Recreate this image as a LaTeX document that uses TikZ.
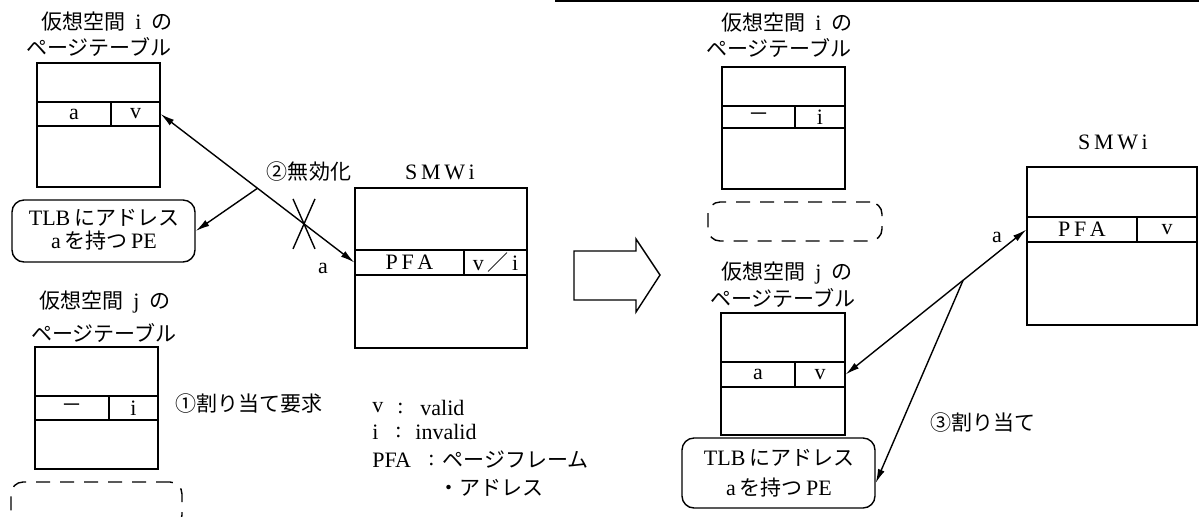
\documentclass[tikz,border=0pt]{standalone}
\usepackage{fontspec}
\setmainfont{Liberation Serif}
\newfontfamily\jp[Scale=0.955]{Noto Sans CJK JP}
\newcommand{\gap}{\hspace{5pt}}
\usetikzlibrary{fit,arrows.meta,calc}
\begin{document}
\begin{tikzpicture}[x=0.5pt,y=-0.5pt,
  every node/.style={font=\fontsize{11}{13}\selectfont, inner sep=0pt},
  outer/.style={draw, line width=1.2pt, inner sep=0pt},
  cell/.style={draw, line width=0.6pt, inner sep=0pt},
  pebox/.style={draw, line width=0.7pt, rounded corners=6pt, inner sep=0pt},
  dashbox/.style={draw, line width=0.7pt, rounded corners=6pt, dash pattern=on 7pt off 5pt, inner sep=0pt},
  conn/.style={line width=0.7pt},
  tipone/.style={-{Latex[length=7pt,width=3.5pt]}},
  tipboth/.style={{Latex[length=7pt,width=3.5pt]}-{Latex[length=7pt,width=3.5pt]}},
]
\useasboundingbox (0,0) rectangle (1199,516);
\fill[white] (0,0) rectangle (1199,516);
% top rule
\draw[line width=1.2pt] (555,1) -- (1199,1);

% ===== LEFT: page table i =====
\node (tLi1) at (107,22) {{\jp 仮想空間}\gap i\gap{\jp の}};
\node (tLi2) at (99,47) {{\jp ページテーブル}};
\node[outer, fit={(37,63)(160,187)}] (Ti) {};
\node[cell, fit={(37,102)(111,126)}] (Tia) {};
\node[cell, fit={(111,102)(160,126)}] (Tiv) {};
\node (Tiat) at (Tia.center) {a};
\node (Tivt) at (Tiv.center) {v};

\node[pebox, fit={(12,200)(195,262)}] (TLBL) {};
\node (TLBL1) at (104,218) {TLB\,{\jp にアドレス}};
\node (TLBL2) at (104,241) {a\,{\jp を持つ}\,PE};

% ===== LEFT: page table j =====
\node (tLj1) at (105,302) {{\jp 仮想空間}\gap j\gap{\jp の}};
\node (tLj2) at (104,333) {{\jp ページテーブル}};
\node[outer, fit={(35,347)(158,469)}] (Tj) {};
\node[cell, fit={(35,396)(109,420)}] (Tja) {};
\node[cell, fit={(109,396)(158,420)}] (Tjv) {};
\node (Tjat) at (Tja.center) {{\jp －}};
\node (Tjvt) at (Tjv.center) {i};
\node (req) at (249,404) {{\jp ①割り当て要求}};
\begin{scope}
\clip (0,0) rectangle (1199,516);
\node[dashbox, fit={(11,482)(182,527)}] (dL) {};
\end{scope}

% ===== LEFT: SMWi =====
\node (smwL) at (440,172) {S\,M\,W\,i};
\node[outer, fit={(355,188)(527,348)}] (SL) {};
\node[cell, fit={(355,250)(464,275)}] (SLp) {};
\node[cell, fit={(464,250)(527,275)}] (SLv) {};
\node (SLpt) at (SLp.center) {P\,F\,A};
\node (SLvt) at (SLv.center) {v\,{\jp ／}\,i};
\node (aL) at (323,268) {a};
\node (inv) at (309,172) {{\jp ②無効化}};

\draw[conn, tipboth] (Tiv.east) -- (SLp.west);
\coordinate (jL) at ($(Tiv.east)!0.5!(SLp.west)$);
\draw[conn, tipone] (jL) -- (TLBL.east);
\coordinate (xL) at ($(Tiv.east)!0.74!(SLp.west)$);
\draw[conn] ($(xL)+(-11,25)$) -- ($(xL)+(11,-25)$);
\draw[conn] ($(xL)+(-11,-25)$) -- ($(xL)+(11,25)$);

% legend
\node[anchor=west] (lv) at (372,408) {v};
\node[anchor=west] (lvc) at (397,408) {:};
\node[anchor=west] (lvt) at (420,408) {valid};
\node[anchor=west] (li) at (372,432) {i};
\node[anchor=west] (lic) at (395,432) {:};
\node[anchor=west] (lit) at (415,432) {invalid};
\node[anchor=west] (lp) at (372,460) {PFA};
\node[anchor=west] (lpc) at (428,460) {:};
\node[anchor=west] (lpt) at (442,460) {{\jp ページフレーム}};
\node[anchor=west] (lpt2) at (438,488) {{\jp ・アドレス}};

% block arrow
\draw[line width=0.7pt] (574,251) -- (636,251) -- (636,239) -- (660,275) -- (636,312) -- (636,300) -- (574,300) -- cycle;

% ===== RIGHT: page table i =====
\node (tRi1) at (787,23) {{\jp 仮想空間}\gap i\gap{\jp の}};
\node (tRi2) at (779,48) {{\jp ページテーブル}};
\node[outer, fit={(722,67)(845,189)}] (Ri) {};
\node[cell, fit={(722,106)(795,128)}] (Ria) {};
\node[cell, fit={(795,106)(845,128)}] (Riv) {};
\node (Riat) at (Ria.center) {{\jp －}};
\node (Rivt) at (Riv.center) {i};
\node[dashbox, fit={(708,202)(882,241)}] (dR) {};

% ===== RIGHT: page table j =====
\node (tRj1) at (787,273) {{\jp 仮想空間}\gap j\gap{\jp の}};
\node (tRj2) at (783,298) {{\jp ページテーブル}};
\node[outer, fit={(721,313)(845,435)}] (Rj) {};
\node[cell, fit={(721,362)(795,387)}] (Rja) {};
\node[cell, fit={(795,362)(845,387)}] (Rjv) {};
\node (Rjat) at (Rja.center) {a};
\node (Rjvt) at (Rjv.center) {v};
\node[pebox, fit={(682,438)(875,508)}] (TLBR) {};
\node (TLBR1) at (779,458) {TLB\,{\jp にアドレス}};
\node (TLBR2) at (779,488) {a\,{\jp を持つ}\,PE};

% ===== RIGHT: SMWi =====
\node (smwR) at (1113,142) {S\,M\,W\,i};
\node[outer, fit={(1027,167)(1197,325)}] (SR) {};
\node[cell, fit={(1027,217)(1137,242)}] (SRp) {};
\node[cell, fit={(1137,217)(1197,242)}] (SRv) {};
\node (SRpt) at (SRp.center) {P\,F\,A};
\node (SRvt) at (SRv.center) {v};
\node (aR) at (997,237) {a};
\node (alloc) at (983,423) {{\jp ③割り当て}};

\draw[conn, tipboth] (Rjv.east) -- (SRp.west);
\coordinate (jR) at ($(Rjv.east)!0.65!(SRp.west)$);
\draw[conn, tipone] (jR) -- ($(TLBR.east)+(0,10)$);
\end{tikzpicture}
\end{document}
